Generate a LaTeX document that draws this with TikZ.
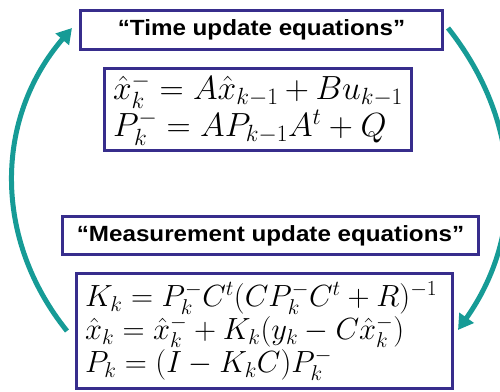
\RequirePackage{fix-cm}
\documentclass[tikz,border=0pt]{standalone}
\usepackage{fontspec}
\usetikzlibrary{arrows.meta}
\newfontfamily\titlefont[FakeStretch=1.1]{Liberation Sans}
\definecolor{boxblue}{RGB}{55,45,140}
\definecolor{arcteal}{RGB}{22,155,150}
\begin{document}
\begin{tikzpicture}[x=1pt,y=1pt,
  titlebox/.style={draw=boxblue, line width=3pt, fill=white, inner sep=0pt,
    font=\titlefont\bfseries\fontsize{22}{26}\selectfont},
  eqbox/.style={draw=boxblue, line width=3pt, fill=white, inner ysep=0pt, inner xsep=8.5pt,
    align=left},
  cyc/.style={draw=arcteal, line width=5pt, -{Triangle[length=15pt,width=17pt]}}]
\useasboundingbox (0,0) rectangle (500,-391);
\node[titlebox, minimum width=362pt, minimum height=39pt] (t1) at (261.5,-30) {“Time update equations”};
\node[eqbox, text width=290pt, minimum height=82pt, font=\fontsize{33.5}{37}\selectfont] (e1) at (258,-109.5)
  {$\hat{x}_k^- = A\hat{x}_{k-1} + Bu_{k-1}$\\
   $P_k^- = AP_{k-1}A^t + Q$};
\node[titlebox, minimum width=416pt, minimum height=38pt] (t2) at (270.5,-235.5) {“Measurement update equations”};
\node[eqbox, text width=359pt, minimum height=115pt, font=\fontsize{30.6}{33}\selectfont] (e2) at (264.5,-331)
  {$K_k = P_k^- C^t(CP_k^-C^t + R)^{-1}$\\
   $\hat{x}_k = \hat{x}_k^- + K_k(y_k - C\hat{x}_k^-)$\\
   $P_k = (I - K_kC)P_k^-$};
\draw[cyc] ([xshift=-8pt]e2.west) to[out=128.8, in=229.3] ([shift={(-7pt,2pt)}]t1.west);
\draw[cyc] ([shift={(4pt,2pt)}]t1.east) to[out=-51.6, in=54.8] ([shift={(4pt,1pt)}]e2.east);
\end{tikzpicture}
\end{document}
